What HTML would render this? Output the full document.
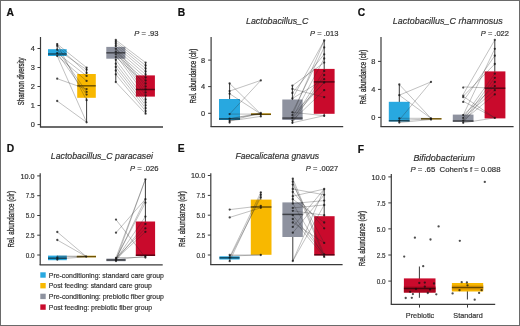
<!DOCTYPE html>
<html><head><meta charset="utf-8"><style>html,body{margin:0;padding:0;background:#fff;width:520px;height:326px;overflow:hidden}</style></head><body>
<svg width="520" height="326" viewBox="0 0 520 326" style="display:block;will-change:transform">
<g font-family='"Liberation Sans", sans-serif'>
<rect x="0.00" y="0.00" width="520.00" height="326.00" fill="#fff" />
<text x="6.60" y="15.70" font-size="10.30" text-anchor="start" fill="#111" stroke="#111" stroke-width="0.2" font-weight="bold">A</text>
<text x="177.80" y="15.70" font-size="10.30" text-anchor="start" fill="#111" stroke="#111" stroke-width="0.2" font-weight="bold">B</text>
<text x="357.80" y="15.70" font-size="10.30" text-anchor="start" fill="#111" stroke="#111" stroke-width="0.2" font-weight="bold">C</text>
<text x="6.80" y="151.60" font-size="10.30" text-anchor="start" fill="#111" stroke="#111" stroke-width="0.2" font-weight="bold">D</text>
<text x="177.80" y="151.60" font-size="10.30" text-anchor="start" fill="#111" stroke="#111" stroke-width="0.2" font-weight="bold">E</text>
<text x="357.80" y="152.90" font-size="10.30" text-anchor="start" fill="#111" stroke="#111" stroke-width="0.2" font-weight="bold">F</text>
<text x="23.80" y="81.30" font-size="8.91" text-anchor="middle" fill="#333" stroke="#333" stroke-width="0.32" textLength="47.8" lengthAdjust="spacingAndGlyphs" transform="rotate(-90 23.80 81.30)" stroke-opacity="1">Shannon diversity</text>
<line x1="40.50" y1="37.00" x2="40.50" y2="127.00" stroke="#3a3a3a" stroke-width="1.2" />
<line x1="37.50" y1="48.50" x2="40.50" y2="48.50" stroke="#3a3a3a" stroke-width="1" />
<text x="34.80" y="51.10" font-size="7.40" text-anchor="end" fill="#333" stroke="#333" stroke-width="0.2">4</text>
<line x1="37.50" y1="67.50" x2="40.50" y2="67.50" stroke="#3a3a3a" stroke-width="1" />
<text x="34.80" y="70.10" font-size="7.40" text-anchor="end" fill="#333" stroke="#333" stroke-width="0.2">3</text>
<line x1="37.50" y1="86.50" x2="40.50" y2="86.50" stroke="#3a3a3a" stroke-width="1" />
<text x="34.80" y="89.10" font-size="7.40" text-anchor="end" fill="#333" stroke="#333" stroke-width="0.2">2</text>
<line x1="37.50" y1="105.50" x2="40.50" y2="105.50" stroke="#3a3a3a" stroke-width="1" />
<text x="34.80" y="108.10" font-size="7.40" text-anchor="end" fill="#333" stroke="#333" stroke-width="0.2">1</text>
<line x1="37.50" y1="124.60" x2="40.50" y2="124.60" stroke="#3a3a3a" stroke-width="1" />
<text x="34.80" y="127.20" font-size="7.40" text-anchor="end" fill="#333" stroke="#333" stroke-width="0.2">0</text>
<line x1="39.90" y1="127.00" x2="163.00" y2="127.00" stroke="#3a3a3a" stroke-width="1.3" />
<text x="134.20" y="35.90" font-size="7.60" text-anchor="start" fill="#333" stroke="#333" stroke-width="0.2" textLength="24.3" lengthAdjust="spacingAndGlyphs"><tspan font-style="italic">P</tspan> = .93</text>
<line x1="57.20" y1="43.50" x2="57.20" y2="56.00" stroke="#222" stroke-width="0.9" />
<line x1="86.60" y1="67.50" x2="86.60" y2="122.30" stroke="#222" stroke-width="0.9" />
<line x1="115.80" y1="40.00" x2="115.80" y2="82.10" stroke="#222" stroke-width="0.9" />
<line x1="145.60" y1="62.60" x2="145.60" y2="113.70" stroke="#222" stroke-width="0.9" />
<text x="196.20" y="76.00" font-size="8.91" text-anchor="middle" fill="#333" stroke="#333" stroke-width="0.32" textLength="54.8" lengthAdjust="spacingAndGlyphs" transform="rotate(-90 196.20 76.00)" stroke-opacity="1">Rel. abundance (clr)</text>
<line x1="211.10" y1="36.90" x2="211.10" y2="126.70" stroke="#3a3a3a" stroke-width="1.2" />
<line x1="208.10" y1="60.10" x2="211.10" y2="60.10" stroke="#3a3a3a" stroke-width="1" />
<text x="205.20" y="62.70" font-size="7.40" text-anchor="end" fill="#333" stroke="#333" stroke-width="0.2">8</text>
<line x1="208.10" y1="86.60" x2="211.10" y2="86.60" stroke="#3a3a3a" stroke-width="1" />
<text x="205.20" y="89.20" font-size="7.40" text-anchor="end" fill="#333" stroke="#333" stroke-width="0.2">4</text>
<line x1="208.10" y1="113.30" x2="211.10" y2="113.30" stroke="#3a3a3a" stroke-width="1" />
<text x="205.20" y="115.90" font-size="7.40" text-anchor="end" fill="#333" stroke="#333" stroke-width="0.2">0</text>
<line x1="210.50" y1="126.70" x2="343.20" y2="126.70" stroke="#3a3a3a" stroke-width="1.3" />
<text x="246.00" y="23.80" font-size="9.79" text-anchor="start" fill="#333" stroke="#333" stroke-width="0.2" font-style="italic" textLength="62.4" lengthAdjust="spacingAndGlyphs">Lactobacillus_C</text>
<text x="310.10" y="35.80" font-size="7.60" text-anchor="start" fill="#333" stroke="#333" stroke-width="0.2" textLength="28.3" lengthAdjust="spacingAndGlyphs"><tspan font-style="italic">P</tspan> = .013</text>
<line x1="229.60" y1="83.30" x2="229.60" y2="122.60" stroke="#222" stroke-width="0.9" />
<line x1="260.80" y1="113.00" x2="260.80" y2="116.40" stroke="#222" stroke-width="0.9" />
<line x1="292.40" y1="85.60" x2="292.40" y2="123.50" stroke="#222" stroke-width="0.9" />
<line x1="324.20" y1="40.40" x2="324.20" y2="117.00" stroke="#222" stroke-width="0.9" />
<text x="365.60" y="77.10" font-size="8.91" text-anchor="middle" fill="#333" stroke="#333" stroke-width="0.32" textLength="54.6" lengthAdjust="spacingAndGlyphs" transform="rotate(-90 365.60 77.10)" stroke-opacity="1">Rel. abundance (clr)</text>
<line x1="381.00" y1="36.90" x2="381.00" y2="126.60" stroke="#3a3a3a" stroke-width="1.2" />
<line x1="378.00" y1="61.40" x2="381.00" y2="61.40" stroke="#3a3a3a" stroke-width="1" />
<text x="375.40" y="64.00" font-size="7.40" text-anchor="end" fill="#333" stroke="#333" stroke-width="0.2">8</text>
<line x1="378.00" y1="89.40" x2="381.00" y2="89.40" stroke="#3a3a3a" stroke-width="1" />
<text x="375.40" y="92.00" font-size="7.40" text-anchor="end" fill="#333" stroke="#333" stroke-width="0.2">4</text>
<line x1="378.00" y1="117.40" x2="381.00" y2="117.40" stroke="#3a3a3a" stroke-width="1" />
<text x="375.40" y="120.00" font-size="7.40" text-anchor="end" fill="#333" stroke="#333" stroke-width="0.2">0</text>
<line x1="380.40" y1="126.60" x2="513.60" y2="126.60" stroke="#3a3a3a" stroke-width="1.3" />
<text x="392.80" y="23.80" font-size="9.79" text-anchor="start" fill="#333" stroke="#333" stroke-width="0.2" font-style="italic" textLength="109.9" lengthAdjust="spacingAndGlyphs">Lactobacillus_C rhamnosus</text>
<text x="480.80" y="35.80" font-size="7.60" text-anchor="start" fill="#333" stroke="#333" stroke-width="0.2" textLength="28.1" lengthAdjust="spacingAndGlyphs"><tspan font-style="italic">P</tspan> = .022</text>
<line x1="399.30" y1="84.50" x2="399.30" y2="122.50" stroke="#222" stroke-width="0.9" />
<line x1="431.00" y1="118.00" x2="431.00" y2="119.60" stroke="#222" stroke-width="0.9" />
<line x1="463.20" y1="114.60" x2="463.20" y2="122.80" stroke="#222" stroke-width="0.9" />
<line x1="494.80" y1="40.60" x2="494.80" y2="118.40" stroke="#222" stroke-width="0.9" />
<text x="13.70" y="219.30" font-size="8.91" text-anchor="middle" fill="#333" stroke="#333" stroke-width="0.32" textLength="56.6" lengthAdjust="spacingAndGlyphs" transform="rotate(-90 13.70 219.30)" stroke-opacity="1">Rel. abundance (clr)</text>
<line x1="40.20" y1="173.30" x2="40.20" y2="264.90" stroke="#3a3a3a" stroke-width="1.2" />
<line x1="37.20" y1="175.90" x2="40.20" y2="175.90" stroke="#3a3a3a" stroke-width="1" />
<text x="34.60" y="178.50" font-size="7.40" text-anchor="end" fill="#333" stroke="#333" stroke-width="0.2" textLength="14.2" lengthAdjust="spacingAndGlyphs">10.0</text>
<line x1="37.20" y1="195.70" x2="40.20" y2="195.70" stroke="#3a3a3a" stroke-width="1" />
<text x="34.60" y="198.30" font-size="7.40" text-anchor="end" fill="#333" stroke="#333" stroke-width="0.2" textLength="8.8" lengthAdjust="spacingAndGlyphs">7.5</text>
<line x1="37.20" y1="215.50" x2="40.20" y2="215.50" stroke="#3a3a3a" stroke-width="1" />
<text x="34.60" y="218.10" font-size="7.40" text-anchor="end" fill="#333" stroke="#333" stroke-width="0.2" textLength="8.8" lengthAdjust="spacingAndGlyphs">5.0</text>
<line x1="37.20" y1="235.20" x2="40.20" y2="235.20" stroke="#3a3a3a" stroke-width="1" />
<text x="34.60" y="237.80" font-size="7.40" text-anchor="end" fill="#333" stroke="#333" stroke-width="0.2" textLength="8.8" lengthAdjust="spacingAndGlyphs">2.5</text>
<line x1="37.20" y1="255.00" x2="40.20" y2="255.00" stroke="#3a3a3a" stroke-width="1" />
<text x="34.60" y="257.60" font-size="7.40" text-anchor="end" fill="#333" stroke="#333" stroke-width="0.2" textLength="8.8" lengthAdjust="spacingAndGlyphs">0.0</text>
<line x1="39.60" y1="264.90" x2="162.70" y2="264.90" stroke="#3a3a3a" stroke-width="1.3" />
<text x="50.80" y="159.30" font-size="9.79" text-anchor="start" fill="#333" stroke="#333" stroke-width="0.2" font-style="italic" textLength="102.2" lengthAdjust="spacingAndGlyphs">Lactobacillus_C paracasei</text>
<text x="130.00" y="171.30" font-size="7.60" text-anchor="start" fill="#333" stroke="#333" stroke-width="0.2" textLength="28.6" lengthAdjust="spacingAndGlyphs"><tspan font-style="italic">P</tspan> = .026</text>
<line x1="57.30" y1="255.60" x2="57.30" y2="260.20" stroke="#222" stroke-width="0.9" />
<line x1="86.20" y1="255.80" x2="86.20" y2="257.30" stroke="#222" stroke-width="0.9" />
<line x1="116.00" y1="257.50" x2="116.00" y2="261.20" stroke="#222" stroke-width="0.9" />
<line x1="145.40" y1="179.50" x2="145.40" y2="257.50" stroke="#222" stroke-width="0.9" />
<rect x="40.30" y="272.30" width="5.40" height="5.40" fill="#28A8E0" />
<text x="48.80" y="277.60" font-size="7.70" text-anchor="start" fill="#333" stroke="#333" stroke-width="0.2" textLength="115.1" lengthAdjust="spacingAndGlyphs">Pre-conditioning: standard care group</text>
<rect x="40.30" y="283.00" width="5.40" height="5.40" fill="#F8B800" />
<text x="48.80" y="288.30" font-size="7.70" text-anchor="start" fill="#333" stroke="#333" stroke-width="0.2" textLength="103.1" lengthAdjust="spacingAndGlyphs">Post feeding: standard care group</text>
<rect x="40.30" y="293.70" width="5.40" height="5.40" fill="#8E929F" />
<text x="48.80" y="299.00" font-size="7.70" text-anchor="start" fill="#333" stroke="#333" stroke-width="0.2" textLength="115.1" lengthAdjust="spacingAndGlyphs">Pre-conditioning: prebiotic fiber group</text>
<rect x="40.30" y="304.40" width="5.40" height="5.40" fill="#C90A2C" />
<text x="48.80" y="309.70" font-size="7.70" text-anchor="start" fill="#333" stroke="#333" stroke-width="0.2" textLength="103.4" lengthAdjust="spacingAndGlyphs">Post feeding: prebiotic fiber group</text>
<text x="185.00" y="219.00" font-size="8.91" text-anchor="middle" fill="#333" stroke="#333" stroke-width="0.32" textLength="55.8" lengthAdjust="spacingAndGlyphs" transform="rotate(-90 185.00 219.00)" stroke-opacity="1">Rel. abundance (clr)</text>
<line x1="210.80" y1="173.30" x2="210.80" y2="264.70" stroke="#3a3a3a" stroke-width="1.2" />
<line x1="207.80" y1="175.50" x2="210.80" y2="175.50" stroke="#3a3a3a" stroke-width="1" />
<text x="205.20" y="178.10" font-size="7.40" text-anchor="end" fill="#333" stroke="#333" stroke-width="0.2" textLength="14.2" lengthAdjust="spacingAndGlyphs">10.0</text>
<line x1="207.80" y1="195.40" x2="210.80" y2="195.40" stroke="#3a3a3a" stroke-width="1" />
<text x="205.20" y="198.00" font-size="7.40" text-anchor="end" fill="#333" stroke="#333" stroke-width="0.2" textLength="8.8" lengthAdjust="spacingAndGlyphs">7.5</text>
<line x1="207.80" y1="215.20" x2="210.80" y2="215.20" stroke="#3a3a3a" stroke-width="1" />
<text x="205.20" y="217.80" font-size="7.40" text-anchor="end" fill="#333" stroke="#333" stroke-width="0.2" textLength="8.8" lengthAdjust="spacingAndGlyphs">5.0</text>
<line x1="207.80" y1="235.10" x2="210.80" y2="235.10" stroke="#3a3a3a" stroke-width="1" />
<text x="205.20" y="237.70" font-size="7.40" text-anchor="end" fill="#333" stroke="#333" stroke-width="0.2" textLength="8.8" lengthAdjust="spacingAndGlyphs">2.5</text>
<line x1="207.80" y1="255.00" x2="210.80" y2="255.00" stroke="#3a3a3a" stroke-width="1" />
<text x="205.20" y="257.60" font-size="7.40" text-anchor="end" fill="#333" stroke="#333" stroke-width="0.2" textLength="8.8" lengthAdjust="spacingAndGlyphs">0.0</text>
<line x1="210.20" y1="264.70" x2="342.60" y2="264.70" stroke="#3a3a3a" stroke-width="1.3" />
<text x="235.40" y="159.30" font-size="9.79" text-anchor="start" fill="#333" stroke="#333" stroke-width="0.2" font-style="italic" textLength="83.8" lengthAdjust="spacingAndGlyphs">Faecalicatena gnavus</text>
<text x="305.80" y="171.30" font-size="7.60" text-anchor="start" fill="#333" stroke="#333" stroke-width="0.2" textLength="32.4" lengthAdjust="spacingAndGlyphs"><tspan font-style="italic">P</tspan> = .0027</text>
<line x1="229.70" y1="255.00" x2="229.70" y2="261.20" stroke="#222" stroke-width="0.9" />
<line x1="260.80" y1="192.20" x2="260.80" y2="255.00" stroke="#222" stroke-width="0.9" />
<line x1="292.80" y1="178.60" x2="292.80" y2="261.00" stroke="#222" stroke-width="0.9" />
<line x1="324.20" y1="188.60" x2="324.20" y2="257.00" stroke="#222" stroke-width="0.9" />
<text x="364.80" y="238.60" font-size="8.91" text-anchor="middle" fill="#333" stroke="#333" stroke-width="0.32" textLength="55.3" lengthAdjust="spacingAndGlyphs" transform="rotate(-90 364.80 238.60)" stroke-opacity="1">Rel. abundance (clr)</text>
<line x1="391.30" y1="173.90" x2="391.30" y2="304.30" stroke="#3a3a3a" stroke-width="1.2" />
<line x1="388.30" y1="176.90" x2="391.30" y2="176.90" stroke="#3a3a3a" stroke-width="1" />
<text x="385.60" y="179.50" font-size="7.40" text-anchor="end" fill="#333" stroke="#333" stroke-width="0.2" textLength="14.2" lengthAdjust="spacingAndGlyphs">10.0</text>
<line x1="388.30" y1="202.90" x2="391.30" y2="202.90" stroke="#3a3a3a" stroke-width="1" />
<text x="385.60" y="205.50" font-size="7.40" text-anchor="end" fill="#333" stroke="#333" stroke-width="0.2" textLength="8.8" lengthAdjust="spacingAndGlyphs">7.5</text>
<line x1="388.30" y1="228.90" x2="391.30" y2="228.90" stroke="#3a3a3a" stroke-width="1" />
<text x="385.60" y="231.50" font-size="7.40" text-anchor="end" fill="#333" stroke="#333" stroke-width="0.2" textLength="8.8" lengthAdjust="spacingAndGlyphs">5.0</text>
<line x1="388.30" y1="255.00" x2="391.30" y2="255.00" stroke="#3a3a3a" stroke-width="1" />
<text x="385.60" y="257.60" font-size="7.40" text-anchor="end" fill="#333" stroke="#333" stroke-width="0.2" textLength="8.8" lengthAdjust="spacingAndGlyphs">2.5</text>
<line x1="388.30" y1="281.10" x2="391.30" y2="281.10" stroke="#3a3a3a" stroke-width="1" />
<text x="385.60" y="283.70" font-size="7.40" text-anchor="end" fill="#333" stroke="#333" stroke-width="0.2" textLength="8.8" lengthAdjust="spacingAndGlyphs">0.0</text>
<line x1="390.70" y1="304.30" x2="495.20" y2="304.30" stroke="#3a3a3a" stroke-width="1.3" />
<text x="413.40" y="160.50" font-size="9.79" text-anchor="start" fill="#333" stroke="#333" stroke-width="0.2" font-style="italic" textLength="61.6" lengthAdjust="spacingAndGlyphs">Bifidobacterium</text>
<text x="410.40" y="172.00" font-size="7.60" text-anchor="start" fill="#333" stroke="#333" stroke-width="0.2" textLength="90.1" lengthAdjust="spacingAndGlyphs"><tspan font-style="italic">P</tspan> = .65  Cohen&#39;s f = 0.088</text>
<line x1="419.50" y1="304.30" x2="419.50" y2="307.60" stroke="#3a3a3a" stroke-width="1" />
<line x1="467.50" y1="304.30" x2="467.50" y2="307.60" stroke="#3a3a3a" stroke-width="1" />
<text x="420.00" y="317.60" font-size="8.03" text-anchor="middle" fill="#333" stroke="#333" stroke-width="0.2" textLength="28.5" lengthAdjust="spacingAndGlyphs">Prebiotic</text>
<text x="468.00" y="317.60" font-size="8.03" text-anchor="middle" fill="#333" stroke="#333" stroke-width="0.2" textLength="29.4" lengthAdjust="spacingAndGlyphs">Standard</text>
<line x1="419.40" y1="266.50" x2="419.40" y2="297.80" stroke="#222" stroke-width="0.9" />
<line x1="467.40" y1="283.00" x2="467.40" y2="299.50" stroke="#222" stroke-width="0.9" />
<rect x="48.00" y="49.20" width="18.70" height="6.80" fill="#28A8E0"/>
<line x1="48.00" y1="54.00" x2="66.70" y2="54.00" stroke="#000" stroke-width="1.5" stroke-opacity="0.55"/>
<rect x="77.20" y="74.00" width="18.60" height="23.80" fill="#F8B800"/>
<line x1="77.20" y1="85.80" x2="95.80" y2="85.80" stroke="#000" stroke-width="1.5" stroke-opacity="0.55"/>
<rect x="106.30" y="46.90" width="19.10" height="11.80" fill="#8E929F"/>
<line x1="106.30" y1="52.80" x2="125.40" y2="52.80" stroke="#000" stroke-width="1.5" stroke-opacity="0.55"/>
<rect x="135.90" y="75.40" width="19.00" height="21.20" fill="#C90A2C"/>
<line x1="135.90" y1="89.50" x2="154.90" y2="89.50" stroke="#000" stroke-width="1.5" stroke-opacity="0.55"/>
<rect x="219.00" y="99.00" width="21.00" height="21.00" fill="#28A8E0"/>
<line x1="219.00" y1="118.90" x2="240.00" y2="118.90" stroke="#000" stroke-width="1.5" stroke-opacity="0.55"/>
<rect x="251.00" y="113.40" width="20.00" height="1.60" fill="#F8B800"/>
<line x1="251.00" y1="114.30" x2="271.00" y2="114.30" stroke="#000" stroke-width="1.5" stroke-opacity="0.55"/>
<rect x="282.30" y="99.50" width="20.30" height="20.50" fill="#8E929F"/>
<line x1="282.30" y1="118.10" x2="302.60" y2="118.10" stroke="#000" stroke-width="1.5" stroke-opacity="0.55"/>
<rect x="313.80" y="68.90" width="20.80" height="44.90" fill="#C90A2C"/>
<line x1="313.80" y1="81.90" x2="334.60" y2="81.90" stroke="#000" stroke-width="1.5" stroke-opacity="0.55"/>
<rect x="388.80" y="101.80" width="20.80" height="19.70" fill="#28A8E0"/>
<line x1="388.80" y1="120.80" x2="409.60" y2="120.80" stroke="#000" stroke-width="1.5" stroke-opacity="0.55"/>
<rect x="421.00" y="118.20" width="20.50" height="1.20" fill="#F8B800"/>
<line x1="421.00" y1="118.80" x2="441.50" y2="118.80" stroke="#000" stroke-width="1.5" stroke-opacity="0.55"/>
<rect x="452.80" y="114.60" width="20.70" height="7.20" fill="#8E929F"/>
<line x1="452.80" y1="121.00" x2="473.50" y2="121.00" stroke="#000" stroke-width="1.5" stroke-opacity="0.55"/>
<rect x="484.60" y="71.40" width="20.80" height="47.00" fill="#C90A2C"/>
<line x1="484.60" y1="88.20" x2="505.40" y2="88.20" stroke="#000" stroke-width="1.5" stroke-opacity="0.55"/>
<rect x="48.00" y="255.60" width="18.80" height="4.60" fill="#28A8E0"/>
<line x1="48.00" y1="258.20" x2="66.80" y2="258.20" stroke="#000" stroke-width="1.5" stroke-opacity="0.55"/>
<rect x="76.80" y="255.80" width="19.20" height="1.50" fill="#F8B800"/>
<line x1="76.80" y1="256.60" x2="96.00" y2="256.60" stroke="#000" stroke-width="1.5" stroke-opacity="0.55"/>
<rect x="106.40" y="258.60" width="19.20" height="2.60" fill="#8E929F"/>
<line x1="106.40" y1="260.00" x2="125.60" y2="260.00" stroke="#000" stroke-width="1.5" stroke-opacity="0.55"/>
<rect x="135.80" y="221.50" width="19.30" height="34.50" fill="#C90A2C"/>
<line x1="135.80" y1="255.20" x2="155.10" y2="255.20" stroke="#000" stroke-width="1.5" stroke-opacity="0.55"/>
<rect x="219.40" y="256.30" width="20.20" height="3.20" fill="#28A8E0"/>
<line x1="219.40" y1="257.80" x2="239.60" y2="257.80" stroke="#000" stroke-width="1.5" stroke-opacity="0.55"/>
<rect x="250.80" y="199.60" width="20.70" height="55.20" fill="#F8B800"/>
<line x1="250.80" y1="207.00" x2="271.50" y2="207.00" stroke="#000" stroke-width="1.5" stroke-opacity="0.55"/>
<rect x="282.40" y="202.40" width="20.40" height="34.60" fill="#8E929F"/>
<line x1="282.40" y1="214.40" x2="302.80" y2="214.40" stroke="#000" stroke-width="1.5" stroke-opacity="0.55"/>
<rect x="314.20" y="216.20" width="20.40" height="39.30" fill="#C90A2C"/>
<line x1="314.20" y1="254.80" x2="334.60" y2="254.80" stroke="#000" stroke-width="1.5" stroke-opacity="0.55"/>
<rect x="403.90" y="278.40" width="31.60" height="14.10" fill="#C90A2C"/>
<rect x="403.9" y="286.5" width="31.6" height="6.0" fill="#A8061F"/>
<line x1="403.90" y1="288.60" x2="435.50" y2="288.60" stroke="#000" stroke-width="1.5" stroke-opacity="0.55"/>
<rect x="451.90" y="283.00" width="31.30" height="8.50" fill="#F8B800"/>
<rect x="451.9" y="285.2" width="31.3" height="5.0" fill="#E9A200"/>
<line x1="451.90" y1="287.50" x2="483.20" y2="287.50" stroke="#000" stroke-width="1.5" stroke-opacity="0.55"/>
<line x1="57.20" y1="44.10" x2="86.60" y2="67.60" stroke="#2a2a2a" stroke-width="0.5" stroke-opacity="0.58"/>
<line x1="57.20" y1="45.80" x2="86.60" y2="72.90" stroke="#2a2a2a" stroke-width="0.5" stroke-opacity="0.58"/>
<line x1="57.20" y1="49.70" x2="86.60" y2="69.70" stroke="#2a2a2a" stroke-width="0.5" stroke-opacity="0.58"/>
<line x1="57.20" y1="53.10" x2="86.60" y2="75.90" stroke="#2a2a2a" stroke-width="0.5" stroke-opacity="0.58"/>
<line x1="57.20" y1="55.90" x2="86.60" y2="80.90" stroke="#2a2a2a" stroke-width="0.5" stroke-opacity="0.58"/>
<line x1="57.20" y1="53.10" x2="86.60" y2="94.60" stroke="#2a2a2a" stroke-width="0.5" stroke-opacity="0.58"/>
<line x1="57.20" y1="55.90" x2="86.60" y2="122.30" stroke="#2a2a2a" stroke-width="0.5" stroke-opacity="0.58"/>
<line x1="57.20" y1="49.70" x2="86.60" y2="91.90" stroke="#2a2a2a" stroke-width="0.5" stroke-opacity="0.58"/>
<line x1="57.20" y1="78.70" x2="86.60" y2="89.10" stroke="#2a2a2a" stroke-width="0.5" stroke-opacity="0.58"/>
<line x1="57.20" y1="101.00" x2="86.60" y2="122.30" stroke="#2a2a2a" stroke-width="0.5" stroke-opacity="0.58"/>
<line x1="57.20" y1="44.10" x2="86.60" y2="100.20" stroke="#2a2a2a" stroke-width="0.5" stroke-opacity="0.58"/>
<line x1="115.80" y1="40.00" x2="145.60" y2="62.60" stroke="#2a2a2a" stroke-width="0.5" stroke-opacity="0.58"/>
<line x1="115.80" y1="41.90" x2="145.60" y2="65.50" stroke="#2a2a2a" stroke-width="0.5" stroke-opacity="0.58"/>
<line x1="115.80" y1="43.80" x2="145.60" y2="68.50" stroke="#2a2a2a" stroke-width="0.5" stroke-opacity="0.58"/>
<line x1="115.80" y1="46.00" x2="145.60" y2="71.50" stroke="#2a2a2a" stroke-width="0.5" stroke-opacity="0.58"/>
<line x1="115.80" y1="48.80" x2="145.60" y2="74.50" stroke="#2a2a2a" stroke-width="0.5" stroke-opacity="0.58"/>
<line x1="115.80" y1="51.60" x2="145.60" y2="77.50" stroke="#2a2a2a" stroke-width="0.5" stroke-opacity="0.58"/>
<line x1="115.80" y1="54.30" x2="145.60" y2="80.50" stroke="#2a2a2a" stroke-width="0.5" stroke-opacity="0.58"/>
<line x1="115.80" y1="57.10" x2="145.60" y2="83.50" stroke="#2a2a2a" stroke-width="0.5" stroke-opacity="0.58"/>
<line x1="115.80" y1="48.00" x2="145.60" y2="86.50" stroke="#2a2a2a" stroke-width="0.5" stroke-opacity="0.58"/>
<line x1="115.80" y1="50.00" x2="145.60" y2="89.50" stroke="#2a2a2a" stroke-width="0.5" stroke-opacity="0.58"/>
<line x1="115.80" y1="52.00" x2="145.60" y2="92.50" stroke="#2a2a2a" stroke-width="0.5" stroke-opacity="0.58"/>
<line x1="115.80" y1="55.00" x2="145.60" y2="95.50" stroke="#2a2a2a" stroke-width="0.5" stroke-opacity="0.58"/>
<line x1="115.80" y1="59.80" x2="145.60" y2="99.50" stroke="#2a2a2a" stroke-width="0.5" stroke-opacity="0.58"/>
<line x1="115.80" y1="63.70" x2="145.60" y2="102.40" stroke="#2a2a2a" stroke-width="0.5" stroke-opacity="0.58"/>
<line x1="115.80" y1="67.00" x2="145.60" y2="105.30" stroke="#2a2a2a" stroke-width="0.5" stroke-opacity="0.58"/>
<line x1="115.80" y1="70.50" x2="145.60" y2="108.20" stroke="#2a2a2a" stroke-width="0.5" stroke-opacity="0.58"/>
<line x1="115.80" y1="74.30" x2="145.60" y2="111.10" stroke="#2a2a2a" stroke-width="0.5" stroke-opacity="0.58"/>
<line x1="115.80" y1="82.10" x2="145.60" y2="113.70" stroke="#2a2a2a" stroke-width="0.5" stroke-opacity="0.58"/>
<line x1="229.60" y1="83.40" x2="260.80" y2="114.00" stroke="#2a2a2a" stroke-width="0.5" stroke-opacity="0.58"/>
<line x1="229.60" y1="91.10" x2="260.80" y2="80.40" stroke="#2a2a2a" stroke-width="0.5" stroke-opacity="0.58"/>
<line x1="229.60" y1="93.70" x2="260.80" y2="114.00" stroke="#2a2a2a" stroke-width="0.5" stroke-opacity="0.58"/>
<line x1="229.60" y1="114.10" x2="260.80" y2="80.40" stroke="#2a2a2a" stroke-width="0.5" stroke-opacity="0.58"/>
<line x1="229.60" y1="118.70" x2="260.80" y2="114.10" stroke="#2a2a2a" stroke-width="0.5" stroke-opacity="0.58"/>
<line x1="229.60" y1="121.00" x2="260.80" y2="116.40" stroke="#2a2a2a" stroke-width="0.5" stroke-opacity="0.58"/>
<line x1="229.60" y1="118.70" x2="260.80" y2="113.00" stroke="#2a2a2a" stroke-width="0.5" stroke-opacity="0.58"/>
<line x1="229.60" y1="114.10" x2="260.80" y2="114.10" stroke="#2a2a2a" stroke-width="0.5" stroke-opacity="0.58"/>
<line x1="229.60" y1="121.00" x2="260.80" y2="113.00" stroke="#2a2a2a" stroke-width="0.5" stroke-opacity="0.58"/>
<line x1="292.40" y1="85.60" x2="324.20" y2="62.60" stroke="#2a2a2a" stroke-width="0.5" stroke-opacity="0.58"/>
<line x1="292.40" y1="88.90" x2="324.20" y2="97.20" stroke="#2a2a2a" stroke-width="0.5" stroke-opacity="0.58"/>
<line x1="292.40" y1="93.00" x2="324.20" y2="54.30" stroke="#2a2a2a" stroke-width="0.5" stroke-opacity="0.58"/>
<line x1="292.40" y1="98.50" x2="324.20" y2="79.20" stroke="#2a2a2a" stroke-width="0.5" stroke-opacity="0.58"/>
<line x1="292.40" y1="112.30" x2="324.20" y2="47.40" stroke="#2a2a2a" stroke-width="0.5" stroke-opacity="0.58"/>
<line x1="292.40" y1="115.10" x2="324.20" y2="40.50" stroke="#2a2a2a" stroke-width="0.5" stroke-opacity="0.58"/>
<line x1="292.40" y1="117.90" x2="324.20" y2="58.50" stroke="#2a2a2a" stroke-width="0.5" stroke-opacity="0.58"/>
<line x1="292.40" y1="120.60" x2="324.20" y2="70.90" stroke="#2a2a2a" stroke-width="0.5" stroke-opacity="0.58"/>
<line x1="292.40" y1="122.80" x2="324.20" y2="75.00" stroke="#2a2a2a" stroke-width="0.5" stroke-opacity="0.58"/>
<line x1="292.40" y1="117.90" x2="324.20" y2="82.50" stroke="#2a2a2a" stroke-width="0.5" stroke-opacity="0.58"/>
<line x1="292.40" y1="120.60" x2="324.20" y2="90.20" stroke="#2a2a2a" stroke-width="0.5" stroke-opacity="0.58"/>
<line x1="292.40" y1="112.30" x2="324.20" y2="115.70" stroke="#2a2a2a" stroke-width="0.5" stroke-opacity="0.58"/>
<line x1="292.40" y1="122.80" x2="324.20" y2="115.70" stroke="#2a2a2a" stroke-width="0.5" stroke-opacity="0.58"/>
<line x1="292.40" y1="115.10" x2="324.20" y2="82.50" stroke="#2a2a2a" stroke-width="0.5" stroke-opacity="0.58"/>
<line x1="292.40" y1="98.50" x2="324.20" y2="40.50" stroke="#2a2a2a" stroke-width="0.5" stroke-opacity="0.58"/>
<line x1="399.30" y1="84.50" x2="431.00" y2="118.30" stroke="#2a2a2a" stroke-width="0.5" stroke-opacity="0.58"/>
<line x1="399.30" y1="95.20" x2="431.00" y2="81.90" stroke="#2a2a2a" stroke-width="0.5" stroke-opacity="0.58"/>
<line x1="399.30" y1="95.20" x2="431.00" y2="118.30" stroke="#2a2a2a" stroke-width="0.5" stroke-opacity="0.58"/>
<line x1="399.30" y1="120.00" x2="431.00" y2="81.90" stroke="#2a2a2a" stroke-width="0.5" stroke-opacity="0.58"/>
<line x1="399.30" y1="118.30" x2="431.00" y2="118.30" stroke="#2a2a2a" stroke-width="0.5" stroke-opacity="0.58"/>
<line x1="399.30" y1="122.50" x2="431.00" y2="119.50" stroke="#2a2a2a" stroke-width="0.5" stroke-opacity="0.58"/>
<line x1="399.30" y1="120.50" x2="431.00" y2="118.80" stroke="#2a2a2a" stroke-width="0.5" stroke-opacity="0.58"/>
<line x1="463.20" y1="86.90" x2="494.80" y2="88.20" stroke="#2a2a2a" stroke-width="0.5" stroke-opacity="0.58"/>
<line x1="463.20" y1="94.40" x2="494.80" y2="40.00" stroke="#2a2a2a" stroke-width="0.5" stroke-opacity="0.58"/>
<line x1="463.20" y1="96.30" x2="494.80" y2="64.00" stroke="#2a2a2a" stroke-width="0.5" stroke-opacity="0.58"/>
<line x1="463.20" y1="101.30" x2="494.80" y2="55.70" stroke="#2a2a2a" stroke-width="0.5" stroke-opacity="0.58"/>
<line x1="463.20" y1="115.10" x2="494.80" y2="48.80" stroke="#2a2a2a" stroke-width="0.5" stroke-opacity="0.58"/>
<line x1="463.20" y1="117.90" x2="494.80" y2="73.70" stroke="#2a2a2a" stroke-width="0.5" stroke-opacity="0.58"/>
<line x1="463.20" y1="120.60" x2="494.80" y2="77.80" stroke="#2a2a2a" stroke-width="0.5" stroke-opacity="0.58"/>
<line x1="463.20" y1="122.80" x2="494.80" y2="82.00" stroke="#2a2a2a" stroke-width="0.5" stroke-opacity="0.58"/>
<line x1="463.20" y1="115.10" x2="494.80" y2="86.10" stroke="#2a2a2a" stroke-width="0.5" stroke-opacity="0.58"/>
<line x1="463.20" y1="117.90" x2="494.80" y2="90.20" stroke="#2a2a2a" stroke-width="0.5" stroke-opacity="0.58"/>
<line x1="463.20" y1="120.60" x2="494.80" y2="94.40" stroke="#2a2a2a" stroke-width="0.5" stroke-opacity="0.58"/>
<line x1="463.20" y1="122.80" x2="494.80" y2="117.90" stroke="#2a2a2a" stroke-width="0.5" stroke-opacity="0.58"/>
<line x1="463.20" y1="101.30" x2="494.80" y2="117.90" stroke="#2a2a2a" stroke-width="0.5" stroke-opacity="0.58"/>
<line x1="463.20" y1="96.30" x2="494.80" y2="117.90" stroke="#2a2a2a" stroke-width="0.5" stroke-opacity="0.58"/>
<line x1="57.30" y1="232.00" x2="86.20" y2="256.50" stroke="#2a2a2a" stroke-width="0.5" stroke-opacity="0.58"/>
<line x1="57.30" y1="240.00" x2="86.20" y2="256.50" stroke="#2a2a2a" stroke-width="0.5" stroke-opacity="0.58"/>
<line x1="57.30" y1="257.00" x2="86.20" y2="256.50" stroke="#2a2a2a" stroke-width="0.5" stroke-opacity="0.58"/>
<line x1="57.30" y1="259.00" x2="86.20" y2="256.80" stroke="#2a2a2a" stroke-width="0.5" stroke-opacity="0.58"/>
<line x1="57.30" y1="256.00" x2="86.20" y2="256.30" stroke="#2a2a2a" stroke-width="0.5" stroke-opacity="0.58"/>
<line x1="116.00" y1="219.60" x2="145.40" y2="257.50" stroke="#2a2a2a" stroke-width="0.5" stroke-opacity="0.58"/>
<line x1="116.00" y1="232.70" x2="145.40" y2="199.20" stroke="#2a2a2a" stroke-width="0.5" stroke-opacity="0.58"/>
<line x1="116.00" y1="257.50" x2="145.40" y2="179.30" stroke="#2a2a2a" stroke-width="0.5" stroke-opacity="0.58"/>
<line x1="116.00" y1="258.50" x2="145.40" y2="202.70" stroke="#2a2a2a" stroke-width="0.5" stroke-opacity="0.58"/>
<line x1="116.00" y1="259.50" x2="145.40" y2="216.60" stroke="#2a2a2a" stroke-width="0.5" stroke-opacity="0.58"/>
<line x1="116.00" y1="260.40" x2="145.40" y2="223.90" stroke="#2a2a2a" stroke-width="0.5" stroke-opacity="0.58"/>
<line x1="116.00" y1="258.00" x2="145.40" y2="228.30" stroke="#2a2a2a" stroke-width="0.5" stroke-opacity="0.58"/>
<line x1="116.00" y1="259.00" x2="145.40" y2="231.80" stroke="#2a2a2a" stroke-width="0.5" stroke-opacity="0.58"/>
<line x1="116.00" y1="260.00" x2="145.40" y2="256.00" stroke="#2a2a2a" stroke-width="0.5" stroke-opacity="0.58"/>
<line x1="116.00" y1="257.50" x2="145.40" y2="257.50" stroke="#2a2a2a" stroke-width="0.5" stroke-opacity="0.58"/>
<line x1="116.00" y1="259.00" x2="145.40" y2="199.20" stroke="#2a2a2a" stroke-width="0.5" stroke-opacity="0.58"/>
<line x1="116.00" y1="260.40" x2="145.40" y2="179.30" stroke="#2a2a2a" stroke-width="0.5" stroke-opacity="0.58"/>
<line x1="229.70" y1="209.60" x2="260.80" y2="205.90" stroke="#2a2a2a" stroke-width="0.5" stroke-opacity="0.58"/>
<line x1="229.70" y1="217.40" x2="260.80" y2="207.80" stroke="#2a2a2a" stroke-width="0.5" stroke-opacity="0.58"/>
<line x1="229.70" y1="257.00" x2="260.80" y2="192.40" stroke="#2a2a2a" stroke-width="0.5" stroke-opacity="0.58"/>
<line x1="229.70" y1="258.00" x2="260.80" y2="197.30" stroke="#2a2a2a" stroke-width="0.5" stroke-opacity="0.58"/>
<line x1="229.70" y1="261.00" x2="260.80" y2="194.80" stroke="#2a2a2a" stroke-width="0.5" stroke-opacity="0.58"/>
<line x1="229.70" y1="256.00" x2="260.80" y2="255.00" stroke="#2a2a2a" stroke-width="0.5" stroke-opacity="0.58"/>
<line x1="229.70" y1="255.00" x2="260.80" y2="255.00" stroke="#2a2a2a" stroke-width="0.5" stroke-opacity="0.58"/>
<line x1="292.80" y1="178.70" x2="324.20" y2="254.50" stroke="#2a2a2a" stroke-width="0.5" stroke-opacity="0.58"/>
<line x1="292.80" y1="181.70" x2="324.20" y2="256.90" stroke="#2a2a2a" stroke-width="0.5" stroke-opacity="0.58"/>
<line x1="292.80" y1="184.60" x2="324.20" y2="242.90" stroke="#2a2a2a" stroke-width="0.5" stroke-opacity="0.58"/>
<line x1="292.80" y1="189.00" x2="324.20" y2="194.80" stroke="#2a2a2a" stroke-width="0.5" stroke-opacity="0.58"/>
<line x1="292.80" y1="191.90" x2="324.20" y2="228.30" stroke="#2a2a2a" stroke-width="0.5" stroke-opacity="0.58"/>
<line x1="292.80" y1="196.20" x2="324.20" y2="189.00" stroke="#2a2a2a" stroke-width="0.5" stroke-opacity="0.58"/>
<line x1="292.80" y1="199.20" x2="324.20" y2="222.50" stroke="#2a2a2a" stroke-width="0.5" stroke-opacity="0.58"/>
<line x1="292.80" y1="203.50" x2="324.20" y2="200.60" stroke="#2a2a2a" stroke-width="0.5" stroke-opacity="0.58"/>
<line x1="292.80" y1="207.90" x2="324.20" y2="205.00" stroke="#2a2a2a" stroke-width="0.5" stroke-opacity="0.58"/>
<line x1="292.80" y1="210.80" x2="324.20" y2="215.20" stroke="#2a2a2a" stroke-width="0.5" stroke-opacity="0.58"/>
<line x1="292.80" y1="215.20" x2="324.20" y2="254.50" stroke="#2a2a2a" stroke-width="0.5" stroke-opacity="0.58"/>
<line x1="292.80" y1="219.00" x2="324.20" y2="256.90" stroke="#2a2a2a" stroke-width="0.5" stroke-opacity="0.58"/>
<line x1="292.80" y1="222.50" x2="324.20" y2="242.90" stroke="#2a2a2a" stroke-width="0.5" stroke-opacity="0.58"/>
<line x1="292.80" y1="226.90" x2="324.20" y2="189.00" stroke="#2a2a2a" stroke-width="0.5" stroke-opacity="0.58"/>
<line x1="292.80" y1="232.70" x2="324.20" y2="194.80" stroke="#2a2a2a" stroke-width="0.5" stroke-opacity="0.58"/>
<line x1="292.80" y1="261.00" x2="324.20" y2="205.00" stroke="#2a2a2a" stroke-width="0.5" stroke-opacity="0.58"/>
<line x1="292.80" y1="261.00" x2="324.20" y2="189.00" stroke="#2a2a2a" stroke-width="0.5" stroke-opacity="0.58"/>
<line x1="292.80" y1="203.50" x2="324.20" y2="256.90" stroke="#2a2a2a" stroke-width="0.5" stroke-opacity="0.58"/>
<circle cx="57.20" cy="44.10" r="1.15" fill="#111" fill-opacity="0.75"/>
<circle cx="57.20" cy="45.80" r="1.15" fill="#111" fill-opacity="0.75"/>
<circle cx="57.20" cy="49.70" r="1.15" fill="#111" fill-opacity="0.75"/>
<circle cx="57.20" cy="53.10" r="1.15" fill="#111" fill-opacity="0.75"/>
<circle cx="57.20" cy="55.90" r="1.15" fill="#111" fill-opacity="0.75"/>
<circle cx="57.20" cy="78.70" r="1.15" fill="#111" fill-opacity="0.75"/>
<circle cx="57.20" cy="101.00" r="1.15" fill="#111" fill-opacity="0.75"/>
<circle cx="86.60" cy="67.60" r="1.15" fill="#111" fill-opacity="0.75"/>
<circle cx="86.60" cy="69.70" r="1.15" fill="#111" fill-opacity="0.75"/>
<circle cx="86.60" cy="72.90" r="1.15" fill="#111" fill-opacity="0.75"/>
<circle cx="86.60" cy="75.90" r="1.15" fill="#111" fill-opacity="0.75"/>
<circle cx="86.60" cy="80.90" r="1.15" fill="#111" fill-opacity="0.75"/>
<circle cx="86.60" cy="89.10" r="1.15" fill="#111" fill-opacity="0.75"/>
<circle cx="86.60" cy="91.90" r="1.15" fill="#111" fill-opacity="0.75"/>
<circle cx="86.60" cy="94.60" r="1.15" fill="#111" fill-opacity="0.75"/>
<circle cx="86.60" cy="100.20" r="1.15" fill="#111" fill-opacity="0.75"/>
<circle cx="86.60" cy="122.30" r="1.15" fill="#111" fill-opacity="0.75"/>
<circle cx="115.80" cy="40.00" r="1.15" fill="#111" fill-opacity="0.75"/>
<circle cx="115.80" cy="41.90" r="1.15" fill="#111" fill-opacity="0.75"/>
<circle cx="115.80" cy="43.80" r="1.15" fill="#111" fill-opacity="0.75"/>
<circle cx="115.80" cy="46.00" r="1.15" fill="#111" fill-opacity="0.75"/>
<circle cx="115.80" cy="48.80" r="1.15" fill="#111" fill-opacity="0.75"/>
<circle cx="115.80" cy="51.60" r="1.15" fill="#111" fill-opacity="0.75"/>
<circle cx="115.80" cy="54.30" r="1.15" fill="#111" fill-opacity="0.75"/>
<circle cx="115.80" cy="57.10" r="1.15" fill="#111" fill-opacity="0.75"/>
<circle cx="115.80" cy="59.80" r="1.15" fill="#111" fill-opacity="0.75"/>
<circle cx="115.80" cy="63.70" r="1.15" fill="#111" fill-opacity="0.75"/>
<circle cx="115.80" cy="67.00" r="1.15" fill="#111" fill-opacity="0.75"/>
<circle cx="115.80" cy="70.50" r="1.15" fill="#111" fill-opacity="0.75"/>
<circle cx="115.80" cy="74.30" r="1.15" fill="#111" fill-opacity="0.75"/>
<circle cx="115.80" cy="82.10" r="1.15" fill="#111" fill-opacity="0.75"/>
<circle cx="145.60" cy="62.60" r="1.15" fill="#111" fill-opacity="0.75"/>
<circle cx="145.60" cy="65.50" r="1.15" fill="#111" fill-opacity="0.75"/>
<circle cx="145.60" cy="68.50" r="1.15" fill="#111" fill-opacity="0.75"/>
<circle cx="145.60" cy="71.50" r="1.15" fill="#111" fill-opacity="0.75"/>
<circle cx="145.60" cy="74.50" r="1.15" fill="#111" fill-opacity="0.75"/>
<circle cx="145.60" cy="77.50" r="1.15" fill="#111" fill-opacity="0.75"/>
<circle cx="145.60" cy="80.50" r="1.15" fill="#111" fill-opacity="0.75"/>
<circle cx="145.60" cy="83.50" r="1.15" fill="#111" fill-opacity="0.75"/>
<circle cx="145.60" cy="86.50" r="1.15" fill="#111" fill-opacity="0.75"/>
<circle cx="145.60" cy="89.50" r="1.15" fill="#111" fill-opacity="0.75"/>
<circle cx="145.60" cy="92.50" r="1.15" fill="#111" fill-opacity="0.75"/>
<circle cx="145.60" cy="95.50" r="1.15" fill="#111" fill-opacity="0.75"/>
<circle cx="145.60" cy="99.50" r="1.15" fill="#111" fill-opacity="0.75"/>
<circle cx="145.60" cy="102.40" r="1.15" fill="#111" fill-opacity="0.75"/>
<circle cx="145.60" cy="105.30" r="1.15" fill="#111" fill-opacity="0.75"/>
<circle cx="145.60" cy="108.20" r="1.15" fill="#111" fill-opacity="0.75"/>
<circle cx="145.60" cy="111.10" r="1.15" fill="#111" fill-opacity="0.75"/>
<circle cx="145.60" cy="113.70" r="1.15" fill="#111" fill-opacity="0.75"/>
<circle cx="229.60" cy="83.40" r="1.15" fill="#111" fill-opacity="0.75"/>
<circle cx="229.60" cy="91.10" r="1.15" fill="#111" fill-opacity="0.75"/>
<circle cx="229.60" cy="93.70" r="1.15" fill="#111" fill-opacity="0.75"/>
<circle cx="229.60" cy="114.10" r="1.15" fill="#111" fill-opacity="0.75"/>
<circle cx="229.60" cy="118.70" r="1.15" fill="#111" fill-opacity="0.75"/>
<circle cx="229.60" cy="121.00" r="1.15" fill="#111" fill-opacity="0.75"/>
<circle cx="229.60" cy="122.60" r="1.15" fill="#111" fill-opacity="0.75"/>
<circle cx="260.80" cy="80.40" r="1.15" fill="#111" fill-opacity="0.75"/>
<circle cx="260.80" cy="113.00" r="1.15" fill="#111" fill-opacity="0.75"/>
<circle cx="260.80" cy="114.10" r="1.15" fill="#111" fill-opacity="0.75"/>
<circle cx="260.80" cy="116.40" r="1.15" fill="#111" fill-opacity="0.75"/>
<circle cx="292.40" cy="85.60" r="1.15" fill="#111" fill-opacity="0.75"/>
<circle cx="292.40" cy="88.90" r="1.15" fill="#111" fill-opacity="0.75"/>
<circle cx="292.40" cy="93.00" r="1.15" fill="#111" fill-opacity="0.75"/>
<circle cx="292.40" cy="98.50" r="1.15" fill="#111" fill-opacity="0.75"/>
<circle cx="292.40" cy="112.30" r="1.15" fill="#111" fill-opacity="0.75"/>
<circle cx="292.40" cy="115.10" r="1.15" fill="#111" fill-opacity="0.75"/>
<circle cx="292.40" cy="117.90" r="1.15" fill="#111" fill-opacity="0.75"/>
<circle cx="292.40" cy="120.60" r="1.15" fill="#111" fill-opacity="0.75"/>
<circle cx="292.40" cy="122.80" r="1.15" fill="#111" fill-opacity="0.75"/>
<circle cx="324.20" cy="40.50" r="1.15" fill="#111" fill-opacity="0.75"/>
<circle cx="324.20" cy="47.40" r="1.15" fill="#111" fill-opacity="0.75"/>
<circle cx="324.20" cy="54.30" r="1.15" fill="#111" fill-opacity="0.75"/>
<circle cx="324.20" cy="58.50" r="1.15" fill="#111" fill-opacity="0.75"/>
<circle cx="324.20" cy="62.60" r="1.15" fill="#111" fill-opacity="0.75"/>
<circle cx="324.20" cy="70.90" r="1.15" fill="#111" fill-opacity="0.75"/>
<circle cx="324.20" cy="75.00" r="1.15" fill="#111" fill-opacity="0.75"/>
<circle cx="324.20" cy="79.20" r="1.15" fill="#111" fill-opacity="0.75"/>
<circle cx="324.20" cy="82.50" r="1.15" fill="#111" fill-opacity="0.75"/>
<circle cx="324.20" cy="90.20" r="1.15" fill="#111" fill-opacity="0.75"/>
<circle cx="324.20" cy="97.20" r="1.15" fill="#111" fill-opacity="0.75"/>
<circle cx="324.20" cy="115.70" r="1.15" fill="#111" fill-opacity="0.75"/>
<circle cx="399.30" cy="84.50" r="1.15" fill="#111" fill-opacity="0.75"/>
<circle cx="399.30" cy="95.20" r="1.15" fill="#111" fill-opacity="0.75"/>
<circle cx="399.30" cy="118.30" r="1.15" fill="#111" fill-opacity="0.75"/>
<circle cx="399.30" cy="120.60" r="1.15" fill="#111" fill-opacity="0.75"/>
<circle cx="399.30" cy="122.50" r="1.15" fill="#111" fill-opacity="0.75"/>
<circle cx="431.00" cy="81.90" r="1.15" fill="#111" fill-opacity="0.75"/>
<circle cx="431.00" cy="118.30" r="1.15" fill="#111" fill-opacity="0.75"/>
<circle cx="431.00" cy="119.50" r="1.15" fill="#111" fill-opacity="0.75"/>
<circle cx="463.20" cy="87.60" r="1.15" fill="#111" fill-opacity="0.75"/>
<circle cx="463.20" cy="95.70" r="1.15" fill="#111" fill-opacity="0.75"/>
<circle cx="463.20" cy="97.20" r="1.15" fill="#111" fill-opacity="0.75"/>
<circle cx="463.20" cy="101.90" r="1.15" fill="#111" fill-opacity="0.75"/>
<circle cx="463.20" cy="115.10" r="1.15" fill="#111" fill-opacity="0.75"/>
<circle cx="463.20" cy="117.90" r="1.15" fill="#111" fill-opacity="0.75"/>
<circle cx="463.20" cy="120.60" r="1.15" fill="#111" fill-opacity="0.75"/>
<circle cx="463.20" cy="122.80" r="1.15" fill="#111" fill-opacity="0.75"/>
<circle cx="494.80" cy="40.00" r="1.15" fill="#111" fill-opacity="0.75"/>
<circle cx="494.80" cy="48.80" r="1.15" fill="#111" fill-opacity="0.75"/>
<circle cx="494.80" cy="55.70" r="1.15" fill="#111" fill-opacity="0.75"/>
<circle cx="494.80" cy="64.00" r="1.15" fill="#111" fill-opacity="0.75"/>
<circle cx="494.80" cy="73.70" r="1.15" fill="#111" fill-opacity="0.75"/>
<circle cx="494.80" cy="77.80" r="1.15" fill="#111" fill-opacity="0.75"/>
<circle cx="494.80" cy="82.00" r="1.15" fill="#111" fill-opacity="0.75"/>
<circle cx="494.80" cy="86.10" r="1.15" fill="#111" fill-opacity="0.75"/>
<circle cx="494.80" cy="90.20" r="1.15" fill="#111" fill-opacity="0.75"/>
<circle cx="494.80" cy="94.40" r="1.15" fill="#111" fill-opacity="0.75"/>
<circle cx="494.80" cy="117.90" r="1.15" fill="#111" fill-opacity="0.75"/>
<circle cx="57.30" cy="232.00" r="1.15" fill="#111" fill-opacity="0.75"/>
<circle cx="57.30" cy="240.00" r="1.15" fill="#111" fill-opacity="0.75"/>
<circle cx="57.30" cy="257.50" r="1.15" fill="#111" fill-opacity="0.75"/>
<circle cx="57.30" cy="259.50" r="1.15" fill="#111" fill-opacity="0.75"/>
<circle cx="86.20" cy="256.60" r="1.15" fill="#111" fill-opacity="0.75"/>
<circle cx="116.00" cy="219.60" r="1.15" fill="#111" fill-opacity="0.75"/>
<circle cx="116.00" cy="232.70" r="1.15" fill="#111" fill-opacity="0.75"/>
<circle cx="116.00" cy="258.00" r="1.15" fill="#111" fill-opacity="0.75"/>
<circle cx="116.00" cy="259.50" r="1.15" fill="#111" fill-opacity="0.75"/>
<circle cx="116.00" cy="261.00" r="1.15" fill="#111" fill-opacity="0.75"/>
<circle cx="145.40" cy="179.30" r="1.15" fill="#111" fill-opacity="0.75"/>
<circle cx="145.40" cy="199.20" r="1.15" fill="#111" fill-opacity="0.75"/>
<circle cx="145.40" cy="202.70" r="1.15" fill="#111" fill-opacity="0.75"/>
<circle cx="145.40" cy="216.60" r="1.15" fill="#111" fill-opacity="0.75"/>
<circle cx="145.40" cy="223.90" r="1.15" fill="#111" fill-opacity="0.75"/>
<circle cx="145.40" cy="228.30" r="1.15" fill="#111" fill-opacity="0.75"/>
<circle cx="145.40" cy="231.80" r="1.15" fill="#111" fill-opacity="0.75"/>
<circle cx="145.40" cy="256.00" r="1.15" fill="#111" fill-opacity="0.75"/>
<circle cx="145.40" cy="257.50" r="1.15" fill="#111" fill-opacity="0.75"/>
<circle cx="229.70" cy="209.60" r="1.15" fill="#111" fill-opacity="0.75"/>
<circle cx="229.70" cy="217.40" r="1.15" fill="#111" fill-opacity="0.75"/>
<circle cx="229.70" cy="255.00" r="1.15" fill="#111" fill-opacity="0.75"/>
<circle cx="229.70" cy="257.70" r="1.15" fill="#111" fill-opacity="0.75"/>
<circle cx="229.70" cy="261.20" r="1.15" fill="#111" fill-opacity="0.75"/>
<circle cx="260.80" cy="192.40" r="1.15" fill="#111" fill-opacity="0.75"/>
<circle cx="260.80" cy="194.80" r="1.15" fill="#111" fill-opacity="0.75"/>
<circle cx="260.80" cy="197.30" r="1.15" fill="#111" fill-opacity="0.75"/>
<circle cx="260.80" cy="205.90" r="1.15" fill="#111" fill-opacity="0.75"/>
<circle cx="260.80" cy="207.80" r="1.15" fill="#111" fill-opacity="0.75"/>
<circle cx="260.80" cy="255.00" r="1.15" fill="#111" fill-opacity="0.75"/>
<circle cx="292.80" cy="178.70" r="1.15" fill="#111" fill-opacity="0.75"/>
<circle cx="292.80" cy="181.70" r="1.15" fill="#111" fill-opacity="0.75"/>
<circle cx="292.80" cy="184.60" r="1.15" fill="#111" fill-opacity="0.75"/>
<circle cx="292.80" cy="189.00" r="1.15" fill="#111" fill-opacity="0.75"/>
<circle cx="292.80" cy="191.90" r="1.15" fill="#111" fill-opacity="0.75"/>
<circle cx="292.80" cy="196.20" r="1.15" fill="#111" fill-opacity="0.75"/>
<circle cx="292.80" cy="199.20" r="1.15" fill="#111" fill-opacity="0.75"/>
<circle cx="292.80" cy="203.50" r="1.15" fill="#111" fill-opacity="0.75"/>
<circle cx="292.80" cy="207.90" r="1.15" fill="#111" fill-opacity="0.75"/>
<circle cx="292.80" cy="210.80" r="1.15" fill="#111" fill-opacity="0.75"/>
<circle cx="292.80" cy="215.20" r="1.15" fill="#111" fill-opacity="0.75"/>
<circle cx="292.80" cy="219.00" r="1.15" fill="#111" fill-opacity="0.75"/>
<circle cx="292.80" cy="222.50" r="1.15" fill="#111" fill-opacity="0.75"/>
<circle cx="292.80" cy="226.90" r="1.15" fill="#111" fill-opacity="0.75"/>
<circle cx="292.80" cy="232.70" r="1.15" fill="#111" fill-opacity="0.75"/>
<circle cx="292.80" cy="261.00" r="1.15" fill="#111" fill-opacity="0.75"/>
<circle cx="324.20" cy="189.00" r="1.15" fill="#111" fill-opacity="0.75"/>
<circle cx="324.20" cy="194.80" r="1.15" fill="#111" fill-opacity="0.75"/>
<circle cx="324.20" cy="200.60" r="1.15" fill="#111" fill-opacity="0.75"/>
<circle cx="324.20" cy="205.00" r="1.15" fill="#111" fill-opacity="0.75"/>
<circle cx="324.20" cy="215.20" r="1.15" fill="#111" fill-opacity="0.75"/>
<circle cx="324.20" cy="222.50" r="1.15" fill="#111" fill-opacity="0.75"/>
<circle cx="324.20" cy="228.30" r="1.15" fill="#111" fill-opacity="0.75"/>
<circle cx="324.20" cy="242.90" r="1.15" fill="#111" fill-opacity="0.75"/>
<circle cx="324.20" cy="254.50" r="1.15" fill="#111" fill-opacity="0.75"/>
<circle cx="324.20" cy="256.90" r="1.15" fill="#111" fill-opacity="0.75"/>
<circle cx="484.80" cy="181.90" r="1.15" fill="#111" fill-opacity="0.75"/>
<circle cx="438.60" cy="226.40" r="1.15" fill="#111" fill-opacity="0.75"/>
<circle cx="414.90" cy="237.70" r="1.15" fill="#111" fill-opacity="0.75"/>
<circle cx="430.50" cy="239.50" r="1.15" fill="#111" fill-opacity="0.75"/>
<circle cx="459.80" cy="240.80" r="1.15" fill="#111" fill-opacity="0.75"/>
<circle cx="404.20" cy="256.60" r="1.15" fill="#111" fill-opacity="0.75"/>
<circle cx="423.20" cy="266.20" r="1.15" fill="#111" fill-opacity="0.75"/>
<circle cx="405.70" cy="298.00" r="1.15" fill="#111" fill-opacity="0.75"/>
<circle cx="411.80" cy="297.80" r="1.15" fill="#111" fill-opacity="0.75"/>
<circle cx="412.90" cy="294.10" r="1.15" fill="#111" fill-opacity="0.75"/>
<circle cx="427.80" cy="293.00" r="1.15" fill="#111" fill-opacity="0.75"/>
<circle cx="436.30" cy="294.30" r="1.15" fill="#111" fill-opacity="0.75"/>
<circle cx="419.30" cy="283.00" r="1.15" fill="#111" fill-opacity="0.75"/>
<circle cx="424.80" cy="282.60" r="1.15" fill="#111" fill-opacity="0.75"/>
<circle cx="434.00" cy="283.50" r="1.15" fill="#111" fill-opacity="0.75"/>
<circle cx="410.10" cy="291.80" r="1.15" fill="#111" fill-opacity="0.75"/>
<circle cx="424.80" cy="286.70" r="1.15" fill="#111" fill-opacity="0.75"/>
<circle cx="416.00" cy="289.00" r="1.15" fill="#111" fill-opacity="0.75"/>
<circle cx="430.00" cy="289.50" r="1.15" fill="#111" fill-opacity="0.75"/>
<circle cx="461.70" cy="282.20" r="1.15" fill="#111" fill-opacity="0.75"/>
<circle cx="466.90" cy="282.50" r="1.15" fill="#111" fill-opacity="0.75"/>
<circle cx="467.50" cy="285.30" r="1.15" fill="#111" fill-opacity="0.75"/>
<circle cx="459.50" cy="290.20" r="1.15" fill="#111" fill-opacity="0.75"/>
<circle cx="481.60" cy="290.20" r="1.15" fill="#111" fill-opacity="0.75"/>
<circle cx="452.60" cy="293.40" r="1.15" fill="#111" fill-opacity="0.75"/>
<circle cx="479.10" cy="292.90" r="1.15" fill="#111" fill-opacity="0.75"/>
<circle cx="474.70" cy="299.70" r="1.15" fill="#111" fill-opacity="0.75"/>
<rect x="0.5" y="0.5" width="519" height="325" fill="none" stroke="#6a6a6a" stroke-width="1"/>
</g></svg>
</body></html>
